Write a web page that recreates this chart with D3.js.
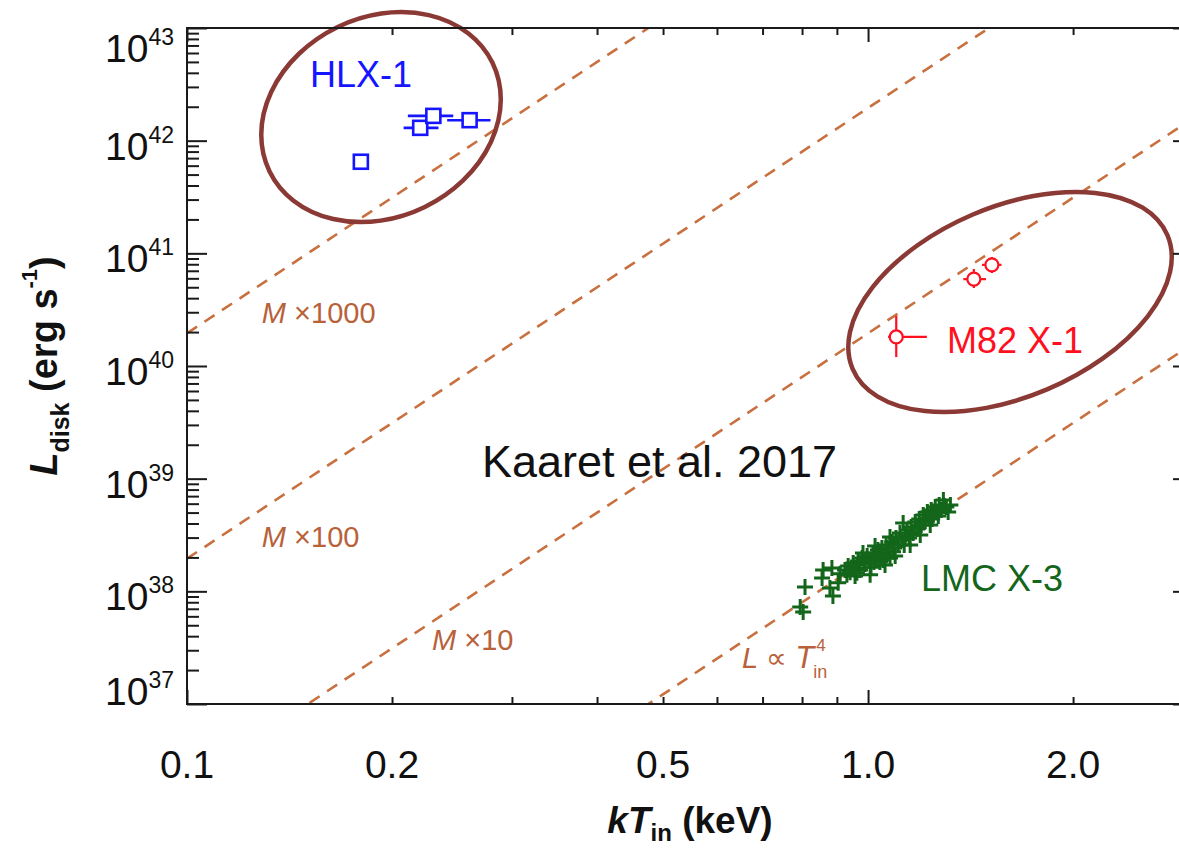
<!DOCTYPE html>
<html>
<head>
<meta charset="utf-8">
<script src="https://cdn.jsdelivr.net/npm/d3@7"></script>
<style>
  html, body { margin: 0; padding: 0; background: #fff; }
  svg { display: block; }
</style>
</head>
<body>
<svg id="chart" width="1179" height="850"></svg>
<script>
// ---------------------------------------------------------------
// Data: inner-disk temperature kT_in (keV) and disk luminosity (erg/s)
// ---------------------------------------------------------------

// HLX-1 (blue squares, horizontal error bars)
const hlxT   = [0.180, 0.220, 0.230, 0.260];
const hlxTlo = [0.176, 0.208, 0.211, 0.241];
const hlxThi = [0.183, 0.234, 0.246, 0.279];
const hlxL   = [6.5e41, 1.30e42, 1.66e42, 1.52e42];

// M82 X-1 (red circles, two-sided error bars)
const m82T   = [1.10, 1.43, 1.52];
const m82Tlo = [1.07, 1.38, 1.47];
const m82Thi = [1.22, 1.49, 1.57];
const m82L   = [1.81e40, 5.90e40, 7.90e40];
const m82Llo = [1.20e40, 4.92e40, 6.68e40];
const m82Lhi = [2.78e40, 7.26e40, 9.29e40];

// LMC X-3 (green crosses); luminosity in units of 1e38 erg/s
const lmcT = [
  0.795, 0.803, 0.808, 0.856, 0.859, 0.879, 0.885, 0.888, 0.904, 0.910,
  0.925, 0.935, 0.941, 0.951, 0.960, 0.967, 0.973, 0.980, 0.990, 0.997,
  1.003, 1.010, 1.017, 1.027, 1.034, 1.041, 1.048, 1.056, 1.063, 1.070,
  1.077, 1.085, 1.092, 1.099, 1.107, 1.114, 1.122, 1.126, 1.134, 1.141,
  1.149, 1.157, 1.165, 1.173, 1.181, 1.189, 1.197, 1.205, 1.213, 1.222,
  1.230, 1.238, 1.247, 1.255, 1.264, 1.272, 1.281, 1.290, 1.303, 1.321,
  1.007, 1.059, 1.096, 1.024, 1.077, 1.153, 1.193, 0.957, 0.983, 1.234,
  0.931, 0.947, 0.963, 0.986, 1.020, 1.038, 1.052, 1.066, 1.088, 1.111,
  1.130, 1.161, 1.185, 1.209, 1.242, 1.268, 1.294, 1.311
];
const lmcL38 = [
  0.726, 0.656, 1.09, 1.31, 1.55, 1.07, 1.61, 0.91, 1.19, 1.43,
  1.55, 1.68, 1.48, 1.78, 1.61, 1.86, 1.55, 1.98, 1.75, 2.06,
  1.86, 1.64, 2.19, 1.98, 2.33, 1.82, 2.42, 2.10, 2.58, 2.28,
  1.98, 2.74, 2.42, 2.97, 2.58, 3.30, 2.86, 4.04, 3.10, 3.50,
  2.97, 3.72, 3.30, 4.13, 3.58, 4.39, 3.88, 4.76, 4.21, 5.06,
  4.48, 5.27, 4.76, 5.61, 5.06, 5.84, 5.27, 6.47, 5.61, 5.84,
  1.40, 1.71, 2.06, 2.53, 3.04, 2.58, 3.16, 1.37, 2.19, 3.88,
  1.40, 1.61, 1.46, 1.90, 1.82, 2.10, 1.90, 2.42, 2.24, 2.86,
  2.58, 3.36, 3.65, 4.13, 4.39, 4.67, 5.72, 5.06
];

// L ∝ M^2 T^4 reference lines: mass multipliers and normalisation at 1 keV
const massFactors = [1, 10, 100, 1000];
const lineNorm = 1.95e38;
// label anchors [kT, L] for each reference line
const lineLabelT = [0.653, 0.229, 0.1288, 0.1288];
const lineLabelL = [2.09e37, 3.02e37, 2.45e38, 2.40e40];

// Axis ranges and ticks
const xDomain = [0.1, 3.0];
const yDomain = [1e37, 1e43];
const xMajor = [0.1, 1.0];
const xMinor = [0.2, 0.3, 0.4, 0.5, 0.6, 0.7, 0.8, 0.9, 2.0, 3.0];
const xLabelTicks = [0.1, 0.2, 0.5, 1.0, 2.0];
const yExponents = [37, 38, 39, 40, 41, 42, 43];

// Source labels: text, [kT, L] of the text start, colour
const sourceNames  = ["HLX-1", "M82 X-1", "LMC X-3"];
const sourceLabelT = [0.1516, 1.306, 1.196];
const sourceLabelL = [3.0e42, 1.30e40, 1.0e38];
const sourceColors = ["#1515ff", "#ff1020", "#13661a"];

// Highlight ellipses: centre [kT, L], semi-axes (px), tilt (deg)
const ellipseT  = [0.1927, 1.616];
const ellipseL  = [1.62e42, 3.70e40];
const ellipseRx = [124, 171];
const ellipseRy = [100, 95];
const ellipseTilt = [26, 23];

// Reference note
const noteText = "Kaaret et al. 2017";
const noteT = 0.271, noteL = 1.03e39;

// ---------------------------------------------------------------
const svg = d3.select("#chart");
const plot = { left: 187, right: 1193, top: 28, bottom: 704 };

const x = d3.scaleLog().domain(xDomain).range([plot.left, plot.right]);
const y = d3.scaleLog().domain(yDomain).range([plot.bottom, plot.top]);

const lineColor = "#c8703f";
const lineText = "#b8613a";
const axisFont = "'Liberation Sans Narrow', 'Liberation Sans', Arial, sans-serif";
const textFont = "'Liberation Sans', Arial, Helvetica, sans-serif";

svg.append("defs").append("clipPath").attr("id", "plotClip")
  .append("rect")
  .attr("x", plot.left).attr("y", plot.top)
  .attr("width", plot.right - plot.left)
  .attr("height", plot.bottom - plot.top);

// ----- reference L ∝ T^4 lines -----
const gLines = svg.append("g").attr("clip-path", "url(#plotClip)");
const lineGen = d3.line().x(d => x(d[0])).y(d => y(d[1]));
massFactors.forEach(m => {
  const pts = xDomain.map(t => [t, lineNorm * m * m * Math.pow(t, 4)]);
  gLines.append("path")
    .attr("d", lineGen(pts))
    .attr("fill", "none")
    .attr("stroke", lineColor)
    .attr("stroke-width", 2.6)
    .attr("stroke-dasharray", "12,9");
});

// ----- line labels -----
const gLineLab = svg.append("g")
  .attr("font-family", textFont)
  .attr("font-size", 29)
  .attr("fill", lineText);

massFactors.forEach((m, i) => {
  const px = x(lineLabelT[i]), py = y(lineLabelL[i]);
  if (m === 1) {
    const t = gLineLab.append("text").attr("x", px).attr("y", py);
    t.append("tspan").attr("font-style", "italic").text("L");
    t.append("tspan").text(" \u221D ");
    t.append("tspan").attr("font-style", "italic").attr("font-size", 31).text("T");
    const w = t.node().getComputedTextLength();
    gLineLab.append("text").attr("x", px + w - 1).attr("y", py + 10)
      .attr("font-size", 18).text("in");
    gLineLab.append("text").attr("x", px + w + 2).attr("y", py - 17)
      .attr("font-size", 17).text("4");
  } else {
    const t = gLineLab.append("text").attr("x", px).attr("y", py);
    t.append("tspan").attr("font-style", "italic").text("M");
    t.append("tspan").text(" \u00D7" + m);
  }
});

// ----- LMC X-3 crosses -----
const gLmc = svg.append("g").attr("clip-path", "url(#plotClip)")
  .attr("stroke", sourceColors[2]).attr("stroke-width", 3);
const arm = 8;
gLmc.selectAll("path").data(lmcT.map((t, i) => [t, lmcL38[i] * 1e38]))
  .join("path")
  .attr("d", d => {
    const cx = x(d[0]), cy = y(d[1]);
    return `M${cx - arm},${cy}H${cx + arm}M${cx},${cy - arm}V${cy + arm}`;
  });

// ----- HLX-1 squares -----
const gHlx = svg.append("g").attr("stroke", sourceColors[0]).attr("stroke-width", 2.6);
const hlx = hlxT.map((t, i) => ({ t, lo: hlxTlo[i], hi: hlxThi[i], L: hlxL[i] }));
gHlx.selectAll("line.err").data(hlx).join("line").attr("class", "err")
  .attr("x1", d => x(d.lo)).attr("x2", d => x(d.hi))
  .attr("y1", d => y(d.L)).attr("y2", d => y(d.L));
const sq = 14;
gHlx.selectAll("rect").data(hlx).join("rect")
  .attr("x", d => x(d.t) - sq / 2).attr("y", d => y(d.L) - sq / 2)
  .attr("width", sq).attr("height", sq)
  .attr("fill", "#fff");

// ----- M82 X-1 circles -----
const gM82 = svg.append("g").attr("stroke", sourceColors[1]).attr("stroke-width", 2.2);
const m82 = m82T.map((t, i) => ({
  t, tlo: m82Tlo[i], thi: m82Thi[i], L: m82L[i], llo: m82Llo[i], lhi: m82Lhi[i]
}));
gM82.selectAll("line.h").data(m82).join("line").attr("class", "h")
  .attr("x1", d => x(d.tlo)).attr("x2", d => x(d.thi))
  .attr("y1", d => y(d.L)).attr("y2", d => y(d.L));
gM82.selectAll("line.v").data(m82).join("line").attr("class", "v")
  .attr("x1", d => x(d.t)).attr("x2", d => x(d.t))
  .attr("y1", d => y(d.llo)).attr("y2", d => y(d.lhi));
gM82.selectAll("circle").data(m82).join("circle")
  .attr("cx", d => x(d.t)).attr("cy", d => y(d.L)).attr("r", 6.5)
  .attr("fill", "#fff");

// ----- source labels -----
svg.append("g").attr("font-family", textFont).attr("font-size", 36)
  .selectAll("text").data(sourceNames).join("text")
  .attr("x", (d, i) => x(sourceLabelT[i]))
  .attr("y", (d, i) => y(sourceLabelL[i]))
  .attr("fill", (d, i) => sourceColors[i])
  .text(d => d);

// ----- highlight ellipses -----
svg.append("g").selectAll("ellipse").data(ellipseT).join("ellipse")
  .attr("transform", (d, i) => `translate(${x(d)},${y(ellipseL[i])}) rotate(${-ellipseTilt[i]})`)
  .attr("rx", (d, i) => ellipseRx[i])
  .attr("ry", (d, i) => ellipseRy[i])
  .attr("fill", "none")
  .attr("stroke", "#8b3934")
  .attr("stroke-width", 4.5);

// ----- reference note -----
svg.append("text")
  .attr("x", x(noteT)).attr("y", y(noteL))
  .attr("font-family", textFont).attr("font-size", 45)
  .attr("fill", "#111")
  .text(noteText);

// ----- axes -----
const axisStroke = "#1a1a1a";
function styleAxis(g) {
  g.select(".domain").remove();
  g.selectAll(".tick line").attr("stroke", axisStroke).attr("stroke-width", 2);
  g.selectAll(".tick text").remove();
}

// bottom
svg.append("g").attr("transform", `translate(0,${plot.bottom})`)
  .call(d3.axisBottom(x).tickValues(xMajor).tickSize(-14).tickSizeOuter(0)).call(styleAxis);
svg.append("g").attr("transform", `translate(0,${plot.bottom})`)
  .call(d3.axisBottom(x).tickValues(xMinor).tickSize(-7).tickSizeOuter(0)).call(styleAxis);
// top
svg.append("g").attr("transform", `translate(0,${plot.top})`)
  .call(d3.axisTop(x).tickValues(xMajor).tickSize(-14).tickSizeOuter(0)).call(styleAxis);
svg.append("g").attr("transform", `translate(0,${plot.top})`)
  .call(d3.axisTop(x).tickValues(xMinor).tickSize(-7).tickSizeOuter(0)).call(styleAxis);

// left: decades and 2..9 minor ticks
const yDecadeVals = yExponents.map(e => Math.pow(10, e));
const yMinorVals = [];
yExponents.slice(0, -1).forEach(e => {
  for (let k = 2; k <= 9; k++) yMinorVals.push(k * Math.pow(10, e));
});
svg.append("g").attr("transform", `translate(${plot.left},0)`)
  .call(d3.axisLeft(y).tickValues(yDecadeVals).tickSize(-20).tickSizeOuter(0)).call(styleAxis);
svg.append("g").attr("transform", `translate(${plot.left},0)`)
  .call(d3.axisLeft(y).tickValues(yMinorVals).tickSize(-12).tickSizeOuter(0)).call(styleAxis);
// right: decades only
svg.append("g").attr("transform", `translate(${plot.right},0)`)
  .call(d3.axisRight(y).tickValues(yDecadeVals).tickSize(-20).tickSizeOuter(0)).call(styleAxis);

// frame
svg.append("rect")
  .attr("x", plot.left).attr("y", plot.top)
  .attr("width", plot.right - plot.left).attr("height", plot.bottom - plot.top)
  .attr("fill", "none").attr("stroke", axisStroke).attr("stroke-width", 2);

// x tick labels
svg.append("g").attr("font-family", axisFont).attr("font-size", 39)
  .attr("fill", "#111").attr("text-anchor", "middle")
  .selectAll("text").data(xLabelTicks).join("text")
  .attr("x", d => x(d)).attr("y", 778)
  .text(d => d3.format(".1f")(d));

// y tick labels 10^n
const gYLab = svg.append("g").attr("font-family", axisFont).attr("fill", "#111")
  .attr("text-anchor", "end");
yExponents.forEach(e => {
  const base = Math.min(705, Math.max(62, y(Math.pow(10, e)) + 19));
  const t = gYLab.append("text").attr("x", 174).attr("y", base);
  t.append("tspan").attr("font-size", 39).text("10");
  t.append("tspan").attr("font-size", 23).attr("dy", -17).text(String(e));
});

// axis titles
const xt = svg.append("text")
  .attr("x", (plot.left + plot.right) / 2).attr("y", 833)
  .attr("text-anchor", "middle")
  .attr("font-family", textFont).attr("font-weight", "bold")
  .attr("font-size", 37).attr("fill", "#111");
xt.append("tspan").attr("font-style", "italic").text("kT");
xt.append("tspan").attr("font-size", 24).attr("dy", 8).text("in");
xt.append("tspan").attr("dy", -8).text(" (keV)");

const yt = svg.append("text")
  .attr("transform", `translate(57,${(plot.top + plot.bottom) / 2}) rotate(-90)`)
  .attr("text-anchor", "middle")
  .attr("font-family", textFont).attr("font-weight", "bold")
  .attr("font-size", 38).attr("fill", "#111");
yt.append("tspan").attr("font-style", "italic").text("L");
yt.append("tspan").attr("font-size", 25).attr("dy", 12).text("disk");
yt.append("tspan").attr("dy", -12).text(" (erg s");
yt.append("tspan").attr("font-size", 22).attr("dy", -20).text("-1");
yt.append("tspan").attr("dy", 20).text(")");
</script>
</body>
</html>
